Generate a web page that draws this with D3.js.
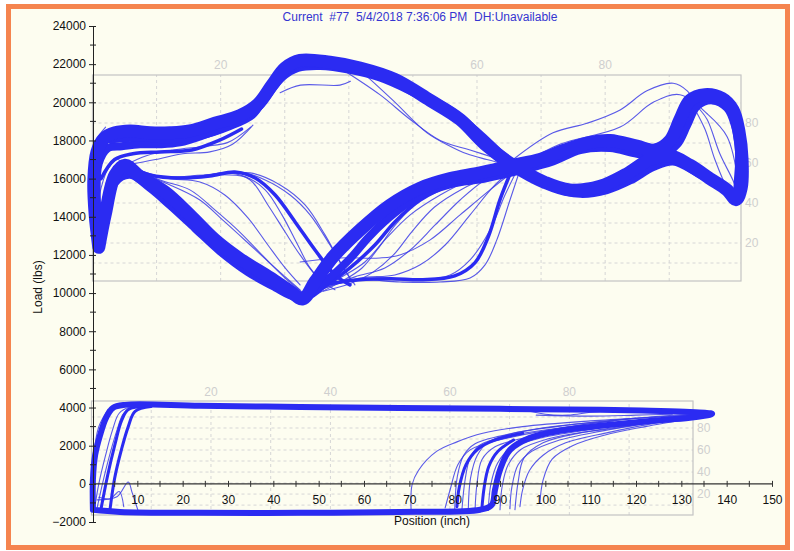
<!DOCTYPE html>
<html>
<head>
<meta charset="utf-8">
<script src="https://cdn.jsdelivr.net/npm/d3@7/dist/d3.min.js"></script>
<style>
  body { margin: 0; background: #fff; }
  svg { display: block; font-family: "Liberation Sans", Arial, sans-serif; }
</style>
</head>
<body>
<div id="chart"></div>
<script>
// ---- tick labels ----
var loadTicks = [-2000, 0, 2000, 4000, 6000, 8000, 10000, 12000, 14000, 16000, 18000, 20000, 22000, 24000];
var loadMinor = [-1000, 1000, 3000, 5000, 7000, 9000, 11000, 13000, 15000, 17000, 19000, 21000, 23000];
var posTicks = [10, 20, 30, 40, 50, 60, 70, 80, 90, 100, 110, 120, 130, 140, 150];
var posMinor = [5, 15, 25, 35, 45, 55, 65, 75, 85, 95, 105, 115, 125, 135, 145];
var pctLabels = [20, 40, 60, 80];
var pctGrid = [10, 20, 30, 40, 50, 60, 70, 80, 90];

// ---- surface card (position inch, load lbs) ----
var surfaceMain = [[1.5,12400],[0.7,14100],[0.4,15900],[1.1,17400],[2.6,18100],[5.1,18400],[8.4,18500],[12.8,18400],
  [17.2,18400],[21.6,18500],[27.1,18900],[32.6,19300],[36.6,19900],[39.7,20900],[42.6,21800],[45.9,22200],[52.5,22100],
  [59.1,21800],[66.8,21200],[74.6,20100],[81.2,19100],[86.7,17800],[92.9,16700],[99.9,15800],[105.4,15400],[112.1,15600],
  [117.6,16200],[123.1,17000],[127.5,17200],[131.9,16700],[136.3,16000],[140.1,15400],[142.1,14900],
  [143.2,15500],[143.4,17000],[142.7,18500],[141.4,19600],[139.0,20200],[135.2,20400],[131.9,20100],[129.7,19100],
  [127.5,18000],[124.2,17500],[120.2,17700],[114.3,18000],[109.9,17900],[104.3,17500],[98.8,17000],[92.9,16700],
  [85.6,16300],[79.0,16000],[72.4,15500],[65.7,14600],[59.1,13300],[53.2,11900],[49.2,10600],[46.5,9700],[43.7,10100],
  [39.3,10800],[32.6,11800],[27.1,12800],[21.6,14100],[16.1,15300],[10.6,16100],[7.3,16700],[5.1,16200],[2.9,14100],[1.5,12400]];

var surfaceAlt = [[1.8,12800],[1.0,15000],[1.5,16800],[3.5,17600],[6.6,17700],[10.6,17800],[15.0,17800],[19.4,17900],
  [24.9,18300],[30.4,18800],[34.9,19300],[38.2,20200],[41.9,21300],[45.4,21800],[50.3,21900],[56.9,21700],[63.5,21300],
  [70.2,20600],[77.9,19600],[83.4,18600],[88.9,17300],[94.0,16500],[101.0,15600],[107.7,15200],[113.6,15400],[118.7,15900],
  [123.8,16600],[128.2,16900],[133.5,16300],[138.5,15600],[141.8,15000],
  [142.5,16000],[142.7,17500],[141.8,18800],[140.1,19700],[136.8,20100],[133.5,19800],[131.3,18800],[129.1,17800],
  [125.3,17200],[120.2,17300],[114.3,17600],[107.7,17500],[101.7,16900],[94.0,16400],[86.7,16000],[79.0,15700],
  [72.4,15100],[66.8,14200],[61.3,13000],[56.9,11800],[52.5,10800],[48.1,9900],[44.8,9800],[40.4,10300],[34.4,11100],
  [28.2,12200],[22.7,13400],[17.2,14600],[12.8,15500],[8.4,16200],[5.1,15800],[2.9,13800],[1.8,12800]];

var surfaceUpMid = [[4.0,18000],[10.6,18100],[17.2,18000],[23.8,18200],[30.4,18700],[35.5,19300],[38.5,20300],[41.5,21300],
  [45.0,21900],[50.0,22000],[57.0,21900],[64.0,21500],[72.0,20600],[80.0,19500],[86.0,18300],[91.0,17200],[94.0,16700]];

var surfaceThin = [
  [[41.5,20500],[46.0,20900],[54.7,20900],[57.0,21100]],
  [[59.1,21700],[66.4,20100],[73.9,18400],[79.0,17700],[82.7,17300],[87.1,17000],[92.2,16700]],
  [[54.7,21800],[63.5,20400],[70.2,19100],[76.8,18000],[83.4,17500],[90.0,17000]],
  [[92.9,17000],[101.7,18400],[109.2,18900],[116.5,19600],[122.4,20600],[128.2,21000],[131.3,20600],[133.5,19800],
    [135.7,19100],[138.5,17300],[141.4,15900],[143.0,14900]],
  [[94.4,16700],[103.2,17800],[116.5,18700],[123.8,20000],[129.7,20400],[135.7,19400],[140.1,18200],[142.5,15900]],
  [[131.9,20100],[135.2,18600],[137.4,17000],[140.3,15400],[141.8,14900]],
  [[94.4,16450],[92.2,14880],[89.3,12790],[86.7,11480],[83.4,10790],[76.8,10580],[67.9,10580],[59.1,10690],[52.5,10430],[48.1,9900]],
  [[94.0,16560],[91.1,15140],[87.8,13310],[83.4,11740],[79.0,10950],[72.4,10690],[63.5,10790],[54.7,10580],[48.1,10060]],
  [[93.3,16560],[88.9,15670],[83.4,14100],[77.9,12520],[72.4,11480],[66.8,10950],[59.1,10790],[50.3,10170]],
  [[92.7,16560],[86.7,15930],[81.2,14880],[75.7,13570],[70.2,12260],[64.6,11320],[58.0,10850],[50.3,10170]],
  [[92.2,16560],[83.4,15930],[76.8,15140],[70.2,14100],[64.6,12790],[60.2,11630],[54.7,10790],[49.2,10060]],
  [[45.9,11630],[54.7,11840],[63.5,11840],[67.9,12000],[74.6,12790],[81.2,14100],[87.8,15410],[93.3,16450]],
  [[91.5,16500],[84.0,16100],[78.0,15600],[72.0,14800],[67.0,13600],[63.0,12300],[59.5,11300],[55.0,10600],[50.0,10000]],
  [[90.5,16400],[82.0,15500],[75.5,14500],[70.5,13200],[66.5,12000],[62.0,11100],[57.0,10500],[51.0,10100]],
  [[7.3,16720],[15.0,16090],[23.8,16140],[30.4,16300],[34.9,15930],[38.8,14620],[42.6,13200],[45.9,12000],[49.9,10790],[53.6,10170]],
  [[7.3,16720],[15.0,16090],[24.9,16190],[33.8,16090],[38.2,15410],[41.9,14100],[45.4,12520],[48.1,11320],[51.4,10430]],
  [[7.3,16720],[16.1,16030],[23.8,15820],[29.3,15140],[34.4,13940],[38.8,12520],[42.6,11320],[45.9,10430]],
  [[7.3,16720],[15.0,15930],[21.6,15410],[27.1,14360],[32.6,13200],[37.5,12000],[42.6,10790],[46.3,10060]],
  [[8.4,16450],[17.2,15670],[23.8,14880],[29.3,13730],[34.9,12520],[40.4,11320],[45.9,10170]],
  [[23.8,16140],[32.6,16350],[38.2,15930],[43.7,15140],[48.1,14100],[52.5,12520],[55.8,11210],[58.0,10430]],
  [[26.0,16190],[34.9,16300],[41.5,15670],[47.0,14620],[51.4,13050],[54.7,11630],[57.4,10580]],
  [[7.3,16700],[12.0,17200],[18.0,17500],[25.0,17700],[30.0,17900],[35.0,18700]],
  [[7.3,16700],[14.0,17000],[20.0,17300],[26.0,17400],[31.0,17800],[35.5,18800]],
  [[0.4,13000],[1.5,15000],[3.5,16500],[5.5,17000],[7.3,16700]],
  [[0.2,14000],[0.2,16500],[1.0,18000],[3.0,18700]]
];

var surfaceMedium = [
  [[91.1,16450],[80.1,15770],[72.4,14880],[66.8,13730],[62.4,12520],[56.9,11320],[50.3,10170]],
  [[7.3,16720],[12.8,16190],[19.4,16030],[26.0,16140],[31.5,16350],[36.0,16030],[40.4,15140],[44.8,13730],[49.2,12260],[53.6,10950],[56.9,10430]],
  [[52.5,10500],[59.0,10700],[66.0,10750],[73.0,10700],[80.0,10900],[84.5,11600],[87.5,13000],[90.0,14900],[92.5,16400]],
  [[2.0,16000],[5.0,17000],[9.0,17300],[15.0,17400],[22.0,17500],[28.0,18000],[33.0,18600]]
];

// ---- pump card ----
var pumpMain = [[0.2,-1360],[0.2,210],[0.7,1520],[1.8,2570],[3.1,3460],[4.6,3980],[7.3,4140],[23.8,4090],[45.9,4030],
  [67.9,3980],[90.0,3930],[112.1,3880],[123.1,3830],[131.9,3770],[136.8,3670],[131.9,3460],[123.1,3300],[112.1,3040],
  [103.2,2780],[96.6,2410],[92.2,1780],[90.0,730],[88.9,-310],[88.2,-1100],[85.6,-1360],[67.9,-1470],[45.9,-1520],
  [23.8,-1520],[6.2,-1470],[0.2,-1360]];

var pumpThin = [
  [[77.9,-1260],[79.0,-310],[80.7,1000],[83.4,1780],[90.0,2310],[101.0,2830],[116.5,3350],[129.7,3620],[136.8,3670]],
  [[81.6,-1360],[82.3,210],[83.4,1360],[85.6,2040],[92.2,2520],[103.2,2930],[118.7,3410],[134.1,3620]],
  [[84.5,-1360],[84.9,-50],[86.0,1260],[88.9,1940],[95.5,2410],[107.7,2830],[123.1,3350],[136.8,3670]],
  [[87.4,-1400],[88.0,0],[89.5,1100],[92.5,1900],[99.0,2400],[110.0,2850],[125.0,3350],[136.8,3650]],
  [[90.0,-1360],[90.5,-100],[91.8,1000],[94.6,1800],[100.5,2350],[111.0,2800],[126.0,3300],[136.0,3600]],
  [[92.2,-1300],[92.6,-200],[94.0,1000],[97.0,1700],[102.5,2250],[112.0,2750],[126.0,3300],[136.0,3650]],
  [[94.4,-1200],[95.0,-300],[96.5,700],[99.5,1500],[104.5,2150],[114.0,2700],[127.0,3300]],
  [[70.4,-1450],[70.6,-50],[72.0,700],[76.0,1700],[80.5,2200],[86.2,2650],[95.0,3000],[110.0,3300],[125.0,3500],[136.8,3650]],
  [[93.3,-1360],[94.0,100],[95.3,1360],[99.5,2150],[107.7,2670],[115.8,2930],[125.0,3300]],
  [[98.8,-1000],[99.5,200],[101.5,1300],[106.0,2000],[113.0,2550],[122.0,3000],[132.0,3400]],
  [[80.0,-1400],[80.6,400],[82.0,1500],[84.5,2100],[90.0,2500],[100.0,2950],[115.0,3300]],
  [[83.0,-1400],[83.5,300],[85.0,1500],[87.5,2200],[93.0,2650],[104.0,3050],[120.0,3450]],
  [[95.0,3900],[100.0,3650],[105.0,3600],[110.0,3750],[115.0,3850]],
  [[98.0,3600],[110.0,3550],[120.0,3600],[128.0,3650]],
  [[0.5,-1400],[1.5,0],[3.0,1500],[4.5,2800],[6.0,3700],[8.5,4050]],
  [[1.0,-1400],[2.5,200],[4.0,1600],[5.5,2800],[7.0,3700],[9.5,4000]],
  [[0.2,-1000],[0.4,1500],[1.5,3000],[3.5,3900]],
  [[1.1,-840],[5.5,-680],[8.0,100],[8.8,-420],[10.1,-1360]],
  [[1.5,-700],[4.0,-780],[6.0,-400],[7.0,-1200]]
];

var pumpMedium = [
  [[2.0,-1300],[3.5,500],[5.0,2000],[6.5,3300],[8.0,3900],[12.0,4050]],
  [[4.0,-1300],[5.0,300],[6.5,1800],[8.0,3000],[9.5,3800],[13.0,4050]],
  [[80.5,-1200],[81.0,-200],[82.5,1000],[85.0,1800],[89.0,2300],[95.0,2650]],
  [[86.0,-1300],[86.5,-200],[87.5,900],[89.5,1700],[93.0,2300]]
];

var titleText = "Current  #77  5/4/2018 7:36:06 PM  DH:Unavailable";

var width = 794, height = 551;
var blue = "#2b2bf2", thinBlue = "#3c3ce6", faint = "#cfcfcf";

var svg = d3.select("#chart").append("svg")
  .attr("width", width)
  .attr("height", height);

// frame
svg.append("rect").attr("x", 0).attr("y", 0).attr("width", width).attr("height", height).attr("fill", "#ffffff");
svg.append("rect")
  .attr("x", 8.5).attr("y", 6.5).attr("width", 779).attr("height", 541)
  .attr("fill", "#fdfdf0")
  .attr("stroke", "#f5844f")
  .attr("stroke-width", 5);

// main scales
var x = d3.scaleLinear().domain([0, 150]).range([92, 772]);
var y = d3.scaleLinear().domain([-2000, 24000]).range([522, 26]);

// inner overlay panels (percent axes)
function innerPanel(xDom, xRange, yDom, yRange, labelY, labelX) {
  var ix = d3.scaleLinear().domain(xDom).range(xRange);
  var iy = d3.scaleLinear().domain(yDom).range(yRange);
  var g = svg.append("g").attr("class", "inner");

  g.selectAll("line.vgrid").data(pctGrid).enter().append("line")
    .attr("class", "vgrid")
    .attr("x1", function(d){ return ix(d); }).attr("x2", function(d){ return ix(d); })
    .attr("y1", yRange[0]).attr("y2", yRange[1])
    .attr("stroke", "#d6d6d6").attr("stroke-dasharray", "3,3");

  g.selectAll("line.hgrid").data(pctGrid).enter().append("line")
    .attr("class", "hgrid")
    .attr("x1", xRange[0]).attr("x2", xRange[1])
    .attr("y1", function(d){ return iy(d); }).attr("y2", function(d){ return iy(d); })
    .attr("stroke", "#d6d6d6").attr("stroke-dasharray", "3,3");

  g.append("rect")
    .attr("x", xRange[0]).attr("y", yRange[1])
    .attr("width", xRange[1] - xRange[0]).attr("height", yRange[0] - yRange[1])
    .attr("fill", "none").attr("stroke", "#c4c4c4").attr("stroke-width", 1.2);

  g.selectAll("text.top").data(pctLabels).enter().append("text")
    .attr("class", "top")
    .attr("x", function(d){ return ix(d); })
    .attr("y", labelY)
    .attr("text-anchor", "middle")
    .attr("font-size", 12)
    .attr("fill", faint)
    .text(function(d){ return d; });

  g.selectAll("text.right").data(pctLabels).enter().append("text")
    .attr("class", "right")
    .attr("x", labelX)
    .attr("y", function(d){ return iy(d); })
    .attr("dy", "0.35em")
    .attr("font-size", 12)
    .attr("fill", faint)
    .text(function(d){ return d; });
}

innerPanel([0, 101.2], [92.5, 741], [1, 104], [281, 75], 69, 745);
innerPanel([0, 100.7], [91.5, 693], [1, 104.5], [515, 401], 396, 697);

// curves
var line = d3.line()
  .x(function(d){ return x(d[0]); })
  .y(function(d){ return y(d[1]); })
  .curve(d3.curveCatmullRom.alpha(0.5));

var curves = svg.append("g").attr("class", "curves")
  .attr("fill", "none")
  .attr("stroke-linejoin", "round")
  .attr("stroke-linecap", "round");

function draw(series, w, col, op) {
  curves.selectAll(null).data(series).enter().append("path")
    .attr("d", line)
    .attr("stroke", col)
    .attr("stroke-width", w)
    .attr("stroke-opacity", op);
}

draw(surfaceThin, 1.1, thinBlue, 0.85);
draw(pumpThin, 1.1, thinBlue, 0.85);
draw(surfaceMedium, 3.5, blue, 1);
draw(pumpMedium, 3, blue, 1);
draw([surfaceAlt], 8, blue, 1);
draw([surfaceUpMid], 6, blue, 1);
draw([surfaceMain], 13, blue, 1);
draw([pumpMain], 6, blue, 1);

// main axes
var yAxis = d3.axisLeft(y).tickValues(loadTicks).tickFormat(d3.format("d"))
  .tickSize(4).tickPadding(3).tickSizeOuter(0);
var gy = svg.append("g").attr("transform", "translate(93,0)").call(yAxis);
gy.selectAll(".tick line").attr("x1", 3).attr("x2", -4).attr("stroke", "#222");
gy.select(".domain").attr("stroke", "#222");
gy.selectAll("text").attr("font-size", 12).attr("fill", "#111").attr("font-family", "Liberation Sans, Arial, sans-serif");
gy.selectAll(null).data(loadMinor).enter().append("line")
  .attr("x1", -3).attr("x2", 3)
  .attr("y1", function(d){ return y(d); }).attr("y2", function(d){ return y(d); })
  .attr("stroke", "#222");

var xAxis = d3.axisBottom(x).tickValues(posTicks).tickFormat(d3.format("d"))
  .tickSize(3).tickPadding(9).tickSizeOuter(0);
var gx = svg.append("g").attr("transform", "translate(0," + y(0) + ")").call(xAxis);
gx.select(".domain").attr("d", "M" + (x(0) + 1) + ",0H" + x(150)).attr("stroke", "#333").attr("stroke-width", 1.2);
gx.selectAll(".tick line").attr("y1", -3).attr("y2", 3).attr("stroke", "#333");
gx.selectAll("text").attr("font-size", 12).attr("fill", "#111").attr("font-family", "Liberation Sans, Arial, sans-serif");
gx.selectAll(null).data(posMinor).enter().append("line")
  .attr("x1", function(d){ return x(d); }).attr("x2", function(d){ return x(d); })
  .attr("y1", -3).attr("y2", 3)
  .attr("stroke", "#333");

// titles
svg.append("text")
  .attr("x", 420).attr("y", 21)
  .attr("text-anchor", "middle")
  .attr("font-size", 12)
  .attr("fill", "#3535d0")
  .style("white-space", "pre")
  .text(titleText);

svg.append("text")
  .attr("transform", "translate(42,287) rotate(-90)")
  .attr("text-anchor", "middle")
  .attr("font-size", 12)
  .attr("fill", "#111")
  .text("Load (lbs)");

svg.append("text")
  .attr("x", 432).attr("y", 525)
  .attr("text-anchor", "middle")
  .attr("font-size", 12)
  .attr("fill", "#111")
  .text("Position (inch)");
</script>
</body>
</html>
